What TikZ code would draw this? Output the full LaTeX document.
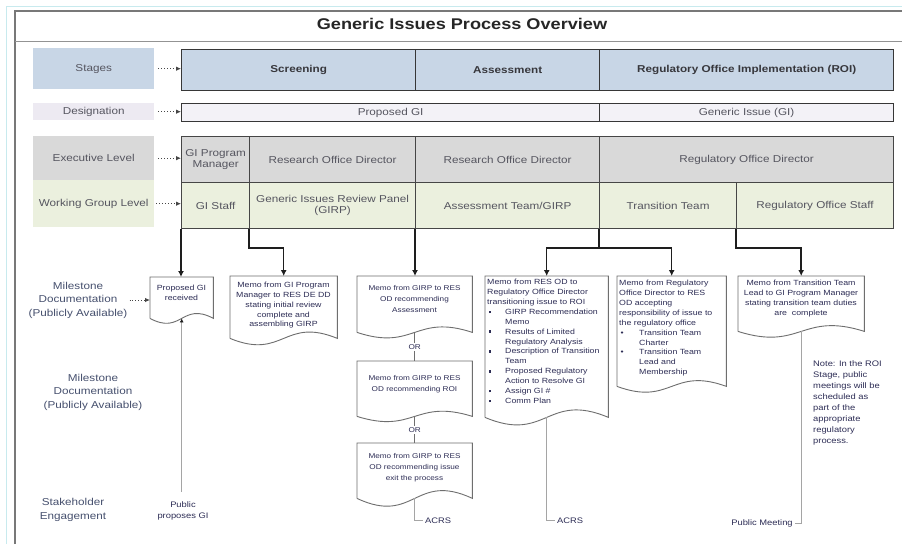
\documentclass[tikz,border=0pt]{standalone}
\usepackage{fontspec}
\setmainfont{Liberation Sans}[FakeStretch=1.17]
\usetikzlibrary{arrows.meta,calc}

\definecolor{stageblue}{RGB}{200,214,230}
\definecolor{desiglbl}{RGB}{237,234,242}
\definecolor{desigbar}{RGB}{243,242,247}
\definecolor{execgray}{RGB}{217,217,217}
\definecolor{workgreen}{RGB}{235,240,222}
\definecolor{griddark}{RGB}{55,55,55}
\definecolor{gridline}{RGB}{70,70,70}
\definecolor{labeltext}{RGB}{85,85,95}
\definecolor{stagetext}{RGB}{55,55,60}
\definecolor{memotext}{RGB}{45,45,85}
\definecolor{sidetext}{RGB}{70,80,110}
\definecolor{framegray}{RGB}{120,120,120}
\definecolor{pagecyan}{RGB}{200,234,238}
\definecolor{leadgray}{RGB}{165,165,165}
\definecolor{connline}{RGB}{30,30,30}
\definecolor{docgray}{RGB}{110,110,110}
\definecolor{arrowgray}{RGB}{70,70,70}

\newcommand{\fs}[2]{\fontsize{#1}{#2}\selectfont}
% document symbol: straight top and sides, wavy bottom edge
\newcommand{\docoutline}[2]{%
  \draw[docline] (#1.south west) -- (#1.north west) -- (#1.north east) -- (#1.south east)
    .. controls ($(#1.south east)!0.5!(#1.south west)+(0,-#2)$)
       and ($(#1.south east)!0.5!(#1.south west)+(0,#2)$) .. (#1.south west);}
\newcommand{\sqb}{\makebox[18pt][l]{\hspace*{1.5pt}\rule[1.2pt]{2.6pt}{2.6pt}}}
\newcommand{\rdb}{\makebox[20pt][l]{\hspace*{1.5pt}\textbullet}}

\begin{document}
\begin{tikzpicture}[x=1pt, y=-1pt,
  every node/.style={inner sep=0pt},
  sidebox/.style={anchor=north west, font=\fs{10}{12}, text=labeltext, align=center},
  stagecell/.style={draw=griddark, line width=1.4pt, fill=stageblue, anchor=north west,
    minimum height=41pt, font=\bfseries\fs{10}{12}, text=stagetext},
  desigcell/.style={draw=griddark, line width=1.2pt, fill=desigbar, anchor=north west,
    minimum height=18pt, font=\fs{10}{12}, text=labeltext},
  execcell/.style={draw=gridline, line width=1.2pt, fill=execgray, anchor=north west,
    minimum height=46pt, font=\fs{10}{11.5}, text=labeltext, align=center},
  workcell/.style={draw=gridline, line width=1.2pt, fill=workgreen, anchor=north west,
    minimum height=46pt, font=\fs{10}{11.5}, text=labeltext, align=center},
  dotarrow/.style={draw=arrowgray, line width=0.9pt, dotted, -{Latex[length=5pt,width=4.5pt]}},
  conn/.style={draw=connline, line width=1.5pt, -{Latex[length=6pt,width=6pt]}},
  connplain/.style={draw=connline, line width=1.5pt},
  docbody/.style={anchor=north west},
  docline/.style={draw=docgray, line width=0.9pt},
  memo/.style={anchor=north, font=\fs{7.5}{9.8}, text=memotext, align=center},
  memosmall/.style={anchor=north, font=\fs{7}{10.8}, text=memotext, align=center},
  memoleft/.style={anchor=north west, font=\fs{7.5}{9.9}, text=memotext, align=left},
  ortext/.style={fill=white, inner sep=1.5pt, font=\fs{7}{8}, text=memotext},
  orline/.style={draw=docgray, line width=0.8pt},
  leadline/.style={draw=leadgray, line width=1pt},
  leadtext/.style={font=\fs{8}{11}, text=memotext, align=center},
  sidetxt/.style={font=\fs{10}{13.5}, text=sidetext, align=center},
  titletxt/.style={font=\bfseries\fs{15.5}{18}, text=black!85},
]
\useasboundingbox (0,0) rectangle (902,544);
\fill[white] (0,0) rectangle (902,544);

% page edge and frame
\draw[pagecyan, line width=1pt] (6,544) -- (6,6) -- (902,6);
\draw[framegray, line width=1.3pt] (15,544) -- (15,11) -- (902,11);
\draw[framegray!80, line width=1pt] (15,41) -- (902,41);
\node[titletxt] (title) at (462,24) {Generic Issues Process Overview};

% row labels
\node[sidebox, fill=stageblue, minimum width=121pt, minimum height=41pt] (stagesL) at (33,48) {Stages};
\node[sidebox, fill=desiglbl, minimum width=121pt, minimum height=17pt] (desigL) at (33,103) {Designation};
\node[sidebox, fill=execgray, minimum width=121pt, minimum height=44pt] (execL) at (33,136) {Executive Level};
\node[sidebox, fill=workgreen, minimum width=121pt, minimum height=47pt] (workL) at (33,180) {Working Group Level};

% stages
\node[stagecell, minimum width=234pt] (screening) at (181,49) {Screening};
\node[stagecell, minimum width=184pt] (assessment) at (415,49) {Assessment};
\node[stagecell, minimum width=294pt] (roi) at (599,49) {Regulatory Office Implementation (ROI)};

% designation
\node[desigcell, minimum width=418pt] (propGI) at (181,103) {Proposed GI};
\node[desigcell, minimum width=294pt] (genGI) at (599,103) {Generic Issue (GI)};

% executive level
\node[execcell, minimum width=68pt] (gipm) at (181,136) {GI Program\\Manager};
\node[execcell, minimum width=166pt] (rodA) at (249,136) {Research Office Director};
\node[execcell, minimum width=184pt] (rodB) at (415,136) {Research Office Director};
\node[execcell, minimum width=294pt] (regdir) at (599,136) {Regulatory Office Director};

% working group level
\node[workcell, minimum width=68pt] (gistaff) at (181,182) {GI Staff};
\node[workcell, minimum width=166pt] (girp) at (249,182) {Generic Issues Review Panel\\(GIRP)};
\node[workcell, minimum width=184pt] (assessteam) at (415,182) {Assessment Team/GIRP};
\node[workcell, minimum width=137pt] (transteam) at (599,182) {Transition Team};
\node[workcell, minimum width=157pt] (regstaff) at (736,182) {Regulatory Office Staff};

% label pointers
\draw[dotarrow] ([xshift=4pt]stagesL.east) -- (stagesL.east -| screening.west);
\draw[dotarrow] ([xshift=4pt]desigL.east) -- (desigL.east -| propGI.west);
\draw[dotarrow] ([xshift=4pt]execL.east) -- (execL.east -| gipm.west);
\draw[dotarrow] ([xshift=2pt]workL.east) -- (workL.east -| gistaff.west);

% milestone documents
\node[docbody, minimum width=63pt, minimum height=41pt] (docPG) at (150,277) {};
\docoutline{docPG}{17}
\node[memo] (docPGt) at (181.5,285) {Proposed GI\\received};

\node[docbody, minimum width=107pt, minimum height=62pt] (docPM) at (230,276) {};
\docoutline{docPM}{22}
\node[memo] (docPMt) at (283.5,282) {Memo from GI Program\\Manager to RES DE DD\\stating initial review\\complete and\\assembling GIRP};

\node[docbody, minimum width=115pt, minimum height=56pt] (docA1) at (357,276) {};
\docoutline{docA1}{19}
\node[memosmall] (docA1t) at (414.5,285.5) {Memo from GIRP to RES\\OD recommending\\Assessment};

\node[docbody, minimum width=115pt, minimum height=55pt] (docA2) at (357,361) {};
\docoutline{docA2}{18}
\node[memosmall] (docA2t) at (414.5,375.5) {Memo from GIRP to RES\\OD recommending ROI};

\node[docbody, minimum width=115pt, minimum height=55pt] (docA3) at (357,443) {};
\docoutline{docA3}{27}
\node[memosmall] (docA3t) at (414.5,453.5) {Memo from GIRP to RES\\OD recommending issue\\exit the process};

\draw[orline] (docA1.south) -- node[ortext] (orA) {OR} (docA2.north);
\draw[orline] (docA2.south) -- node[ortext] (orB) {OR} (docA3.north);

\node[docbody, minimum width=123pt, minimum height=141pt] (docRES) at (485,276) {};
\docoutline{docRES}{26}
\node[memoleft] (docRESt) at (487,279) {Memo from RES OD to\\
Regulatory Office Director\\
transitioning issue to ROI\\
\sqb GIRP Recommendation\\
\hspace*{18pt}Memo\\
\sqb Results of Limited\\
\hspace*{18pt}Regulatory Analysis\\
\sqb Description of Transition\\
\hspace*{18pt}Team\\
\sqb Proposed Regulatory\\
\hspace*{18pt}Action to Resolve GI\\
\sqb Assign GI \#\\
\sqb Comm Plan};

\node[docbody, minimum width=109pt, minimum height=110pt] (docRO) at (617,276) {};
\docoutline{docRO}{20}
\node[memoleft] (docROt) at (619,280) {Memo from Regulatory\\
Office Director to RES\\
OD accepting\\
responsibility of issue to\\
the regulatory office\\
\rdb Transition Team\\
\hspace*{20pt}Charter\\
\rdb Transition Team\\
\hspace*{20pt}Lead and\\
\hspace*{20pt}Membership};

\node[docbody, minimum width=126pt, minimum height=55pt] (docTT) at (738,276) {};
\docoutline{docTT}{20}
\node[memo] (docTTt) at (801,280) {Memo from Transition Team\\Lead to GI Program Manager\\stating transition team duties\\are\ \ complete};

% connectors from the working groups
\draw[conn] (gistaff.south west) -- (gistaff.south west |- docPG.north);
\draw[conn] (girp.south west) -- ++(0,19) -| (docPM.north);
\draw[conn] (assessteam.south west) -- (assessteam.south west |- docA1.north);
\draw[connplain] (transteam.south west) -- ++(0,19) coordinate (roiSplit);
\draw[conn] (roiSplit) -| (docRES.north);
\draw[conn] (roiSplit) -| (docRO.north);
\draw[conn] (regstaff.south west) -- ++(0,19) -| (docTT.north);

% stakeholder engagement leads
\draw[leadline, {Latex[length=4pt,width=4pt,color=connline]}-] (docPG.south) -- ++(0,174) coordinate (pubTop);
\node[leadtext] (pubGI) at (183,510.5) {Public\\proposes GI};
\draw[leadline] (docA3.south) -- ++(0,22) -- ++(8,0) node[leadtext, anchor=west, inner sep=2pt] (acrsA) {ACRS};
\draw[leadline] (docRES.south) -- ++(0,103) -- ++(8,0) node[leadtext, anchor=west, inner sep=2pt] (acrsB) {ACRS};
\draw[leadline] (docTT.south) -- ++(0,192) -- ++(-6,0) node[leadtext, anchor=east, inner sep=2pt] (pubMeet) {Public Meeting};

% side labels
\node[sidetxt, inner sep=2pt] (ms1) at (78,300) {Milestone\\Documentation\\(Publicly Available)};
\draw[dotarrow] (ms1.east) -- (ms1.east -| docPG.west);
\node[sidetxt] (ms2) at (93,392) {Milestone\\Documentation\\(Publicly Available)};
\node[sidetxt, font=\fs{10}{14}] (stake) at (73,510) {Stakeholder\\Engagement};

% note
\node[anchor=north west, font=\fs{8}{11}, text=memotext, align=left] (note) at (813,360)
  {Note: In the ROI\\Stage, public\\meetings will be\\scheduled as\\part of the\\appropriate\\regulatory\\process.};
\end{tikzpicture}
\end{document}
